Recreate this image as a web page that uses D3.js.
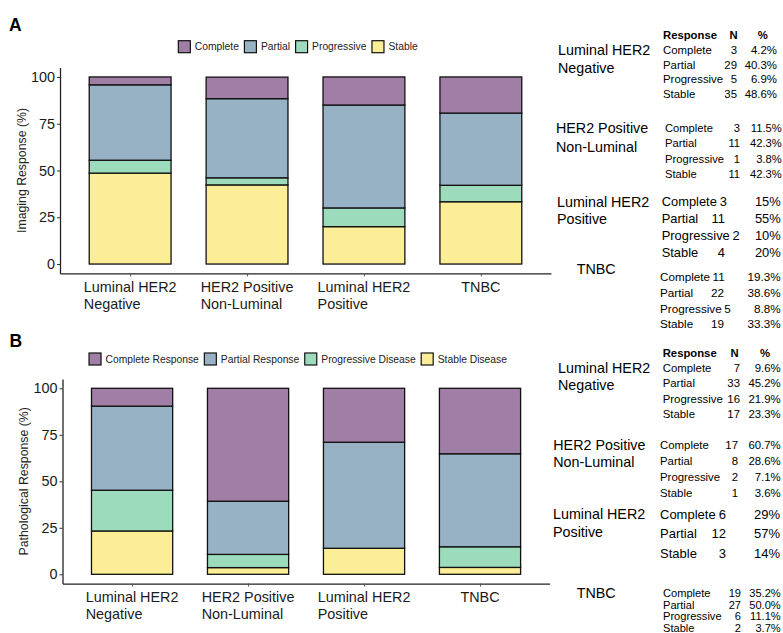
<!DOCTYPE html>
<html>
<head>
<meta charset="utf-8">
<script src="https://cdn.jsdelivr.net/npm/d3@7"></script>
<style>
  html, body { margin: 0; padding: 0; background: #fff; }
  svg { display: block; font-family: "Liberation Sans", Arial, Helvetica, sans-serif; }
</style>
</head>
<body>
<svg id="fig" width="783" height="633"></svg>
<script>
// ---- data ----
const categoryLines = [
  ["Luminal HER2", "Negative"],
  ["HER2 Positive", "Non-Luminal"],
  ["Luminal HER2", "Positive"],
  ["TNBC"]
];
const responses = ["Complete", "Partial", "Progressive", "Stable"];
const imagingLegend = ["Complete", "Partial", "Progressive", "Stable"];
const pathLegend = ["Complete Response", "Partial Response", "Progressive Disease", "Stable Disease"];

// counts and percentages per subtype, in the order of `responses`
const imagingN   = [[3, 29, 5, 35], [3, 11, 1, 11], [3, 11, 2, 4], [11, 22, 5, 19]];
const imagingPct = [[4.2, 40.3, 6.9, 48.6], [11.5, 42.3, 3.8, 42.3], [15, 55, 10, 20], [19.3, 38.6, 8.8, 33.3]];
const imagingDecimals = [1, 1, 0, 1];

const pathN   = [[7, 33, 16, 17], [17, 8, 2, 1], [6, 12, 0, 3], [19, 27, 6, 2]];
const pathPct = [[9.6, 45.2, 21.9, 23.3], [60.7, 28.6, 7.1, 3.6], [29, 57, 0, 14], [35.2, 50.0, 11.1, 3.7]];
const pathDecimals = [1, 1, 0, 1];

const yTicks = [0, 25, 50, 75, 100];

// ---- styles ----
const colors = ["#a07ea5", "#97b2c5", "#9cdcbc", "#fcee96"];
const stackOrder = [3, 2, 1, 0]; // Stable at the bottom, Complete on top

const svg = d3.select("#fig");
const FONT_TICK = 14.4;

function drawPanel(cfg) {
  const g = svg.append("g");

  // panel letter
  g.append("text").attr("x", cfg.letterX).attr("y", cfg.letterY).attr("dy", "0.36em")
    .attr("font-size", 17.5).attr("font-weight", "bold").attr("fill", "#000").text(cfg.letter);

  // legend
  const leg = g.append("g");
  let lx = 0;
  cfg.legend.forEach((name, i) => {
    const item = leg.append("g").attr("transform", `translate(${lx},0)`);
    item.append("rect").attr("x", 0).attr("y", -6).attr("width", 12).attr("height", 12)
      .attr("fill", colors[i]).attr("stroke", "#111").attr("stroke-width", 1.2);
    const t = item.append("text").attr("x", 16.5).attr("y", 0).attr("dy", "0.35em")
      .attr("font-size", 10.3).attr("fill", "#222").text(name);
    lx += 16.5 + t.node().getComputedTextLength() + 5.5;
  });
  const legW = lx - 5.5;
  leg.attr("transform", `translate(${cfg.legendCx - legW / 2},${cfg.legendY})`);

  // scales
  const x = d3.scalePoint().domain(d3.range(categoryLines.length))
    .range([cfg.x0, cfg.x1]).padding(0.6);
  const step = x.step();
  const barW = step * 0.7;
  const y = d3.scaleLinear().domain([-5, 105]).range([cfg.yBottom, cfg.yTop]);

  // stacked bars
  const bars = g.append("g");
  cfg.pct.forEach((vals, ci) => {
    let base = 0;
    stackOrder.forEach(ri => {
      const v = vals[ri];
      if (v > 0) {
        bars.append("rect")
          .attr("x", x(ci) - barW / 2).attr("width", barW)
          .attr("y", y(base + v)).attr("height", y(base) - y(base + v))
          .attr("fill", colors[ri]).attr("stroke", "#111").attr("stroke-width", 1.3);
      }
      base += v;
    });
  });

  // y axis
  const ya = g.append("g").attr("transform", `translate(${cfg.x0},0)`)
    .call(d3.axisLeft(y).tickValues(yTicks).tickSize(3).tickSizeOuter(0).tickPadding(2))
    .attr("font-family", null).attr("font-size", null);
  ya.select(".domain").attr("stroke", "#222").attr("stroke-width", 1.3);
  ya.selectAll(".tick line").attr("stroke", "#333");
  ya.selectAll(".tick text").attr("font-size", FONT_TICK).attr("fill", "#1a1a1a");

  // x axis
  const xa = g.append("g").attr("transform", `translate(0,${cfg.yBottom})`)
    .call(d3.axisBottom(x).tickSize(3).tickSizeOuter(0).tickFormat(""))
    .attr("font-family", null).attr("font-size", null);
  xa.select(".domain").attr("stroke", "#222").attr("stroke-width", 1.3);
  xa.selectAll(".tick line").attr("stroke", "#555");

  // multi-line category labels, lines left-aligned within a centred block
  categoryLines.forEach((lines, ci) => {
    const lg = g.append("g");
    const texts = lines.map((s, li) => lg.append("text")
      .attr("y", cfg.yBottom + 13.5 + li * 17).attr("dy", "0.35em")
      .attr("font-size", FONT_TICK).attr("fill", "#1a1a1a").text(s));
    const w = d3.max(texts, t => t.node().getComputedTextLength());
    texts.forEach(t => t.attr("x", x(ci) - w / 2));
  });

  // y title
  g.append("text")
    .attr("transform", `translate(${cfg.titleX},${(y(-5) + y(105)) / 2}) rotate(-90)`)
    .attr("text-anchor", "middle").attr("dy", "0.35em")
    .attr("font-size", 12.3).attr("fill", "#222").text(cfg.yTitle);

  // summary table
  const tb = g.append("g");
  const h = cfg.table.header;
  const hdr = [["Response", h.resp, "start"], ["N", h.n, "middle"], ["%", h.pct, "middle"]];
  hdr.forEach(([s, hx, anchor]) => tb.append("text").attr("x", hx).attr("y", h.y).attr("dy", "0.35em")
    .attr("text-anchor", anchor).attr("font-size", h.size).attr("font-weight", "bold")
    .attr("fill", "#000").text(s));

  cfg.table.blocks.forEach((b, ci) => {
    categoryLines[ci].forEach((s, li) => tb.append("text")
      .attr("x", b.labelX).attr("y", b.labelY + li * b.labelDy).attr("dy", "0.35em")
      .attr("font-size", 14.3).attr("fill", "#000").text(s));
    let row = 0;
    responses.forEach((r, ri) => {
      const n = cfg.n[ci][ri];
      if (n === 0) return;
      const ry = b.rowY + row * b.rowDy;
      row += 1;
      const lab = tb.append("text").attr("x", b.rowX).attr("y", ry).attr("dy", "0.35em")
        .attr("font-size", b.size).attr("fill", "#000").text(r);
      const labEnd = b.rowX + lab.node().getComputedTextLength();
      const nt = tb.append("text").attr("y", ry).attr("dy", "0.35em").attr("text-anchor", "end")
        .attr("font-size", b.size).attr("fill", "#000").text(n);
      const nw = nt.node().getComputedTextLength();
      nt.attr("x", Math.max(b.nRight, labEnd + b.size * 0.22 + nw));
      tb.append("text").attr("x", b.pRight).attr("y", ry).attr("dy", "0.35em").attr("text-anchor", "end")
        .attr("font-size", b.size).attr("fill", "#000")
        .text(cfg.pct[ci][ri].toFixed(cfg.decimals[ci]) + "%");
    });
  });
}

drawPanel({
  letter: "A", letterX: 9, letterY: 24.5,
  legend: imagingLegend, legendCx: 298, legendY: 46.7,
  x0: 60, x1: 551, yTop: 67.6, yBottom: 273.4,
  titleX: 22, yTitle: "Imaging Response (%)",
  pct: imagingPct, n: imagingN, decimals: imagingDecimals,
  table: {
    header: { y: 35, resp: 663, n: 733.5, pct: 762.7, size: 11.3 },
    blocks: [
      { labelX: 558,   labelY: 50,    labelDy: 17.7, rowX: 663,   rowY: 50,    rowDy: 14.7, size: 11.4, nRight: 737, pRight: 777 },
      { labelX: 556,   labelY: 128.3, labelDy: 18.4, rowX: 665,   rowY: 128.3, rowDy: 15.2, size: 11.2, nRight: 740, pRight: 781.7 },
      { labelX: 557,   labelY: 201.7, labelDy: 17.6, rowX: 661.7, rowY: 201.7, rowDy: 17,   size: 12.9, nRight: 725, pRight: 780.7 },
      { labelX: 576.7, labelY: 269.3, labelDy: 17.6, rowX: 660,   rowY: 277.3, rowDy: 15.6, size: 11.7, nRight: 724, pRight: 780.7 }
    ]
  }
});

drawPanel({
  letter: "B", letterX: 9.5, letterY: 341,
  legend: pathLegend, legendCx: 298, legendY: 359,
  x0: 62.5, x1: 549.6, yTop: 379, yBottom: 583.6,
  titleX: 23.3, yTitle: "Pathological Response (%)",
  pct: pathPct, n: pathN, decimals: pathDecimals,
  table: {
    header: { y: 352.7, resp: 662.7, n: 734.5, pct: 765, size: 11.3 },
    blocks: [
      { labelX: 558,   labelY: 367.7, labelDy: 17.3, rowX: 662.7, rowY: 367.7, rowDy: 15.5, size: 11.4, nRight: 740, pRight: 780.7 },
      { labelX: 553.3, labelY: 445,   labelDy: 16.7, rowX: 660,   rowY: 445,   rowDy: 15.9, size: 11.4, nRight: 738, pRight: 780.7 },
      { labelX: 553,   labelY: 514,   labelDy: 17.7, rowX: 660,   rowY: 514,   rowDy: 19.7, size: 13,   nRight: 726, pRight: 780 },
      { labelX: 576.7, labelY: 592.5, labelDy: 17,   rowX: 663,   rowY: 593,   rowDy: 11.8, size: 11.1, nRight: 741, pRight: 780.7 }
    ]
  }
});
</script>
</body>
</html>
